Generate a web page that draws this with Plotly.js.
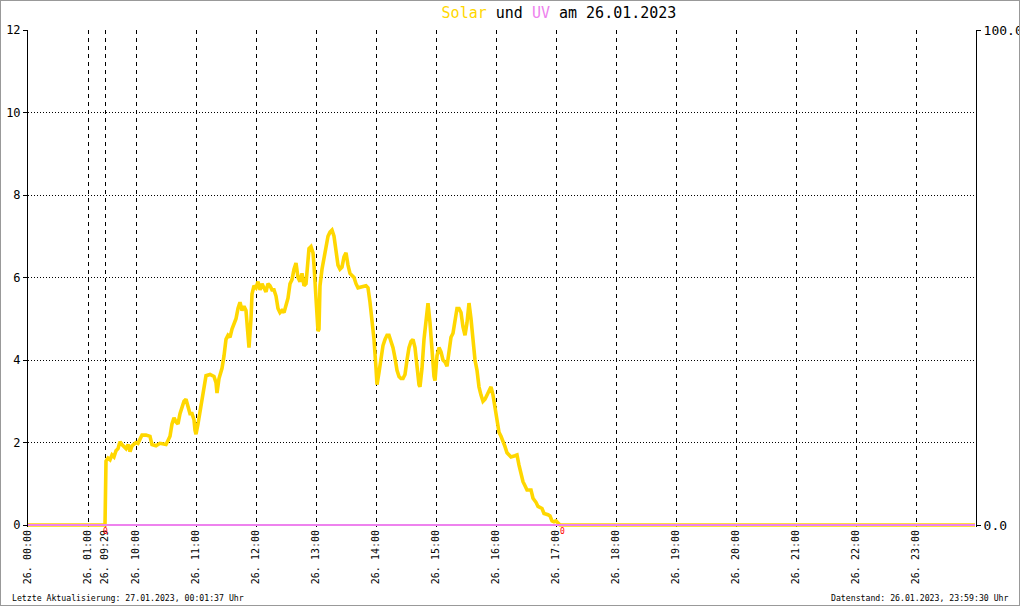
<!DOCTYPE html>
<html>
<head>
<meta charset="utf-8">
<script src="https://cdn.plot.ly/plotly-3.0.1.min.js"></script>
<style>
  html, body { margin: 0; padding: 0; background: #fff; }
  #wrap { position: relative; width: 1020px; height: 606px; }
  #chart { width: 1020px; height: 606px; }
  #frame { position: absolute; left: 0; top: 0; width: 1018px; height: 604px; border: 1px solid #999; pointer-events: none; }
</style>
</head>
<body>
<div id="wrap"><div id="chart"></div><div id="frame"></div></div>
<script>
const day = '2023-01-26';

const solarTime = ['00:00','09:29','09:30','09:32','09:34','09:36','09:38','09:40','09:42','09:44','09:46','09:48','09:50','09:52','09:54','09:56','09:58',
'10:00','10:02','10:04','10:06','10:10','10:14','10:16','10:20','10:24','10:28','10:30','10:32','10:34','10:36','10:38','10:40','10:42','10:44','10:46','10:48','10:50','10:52','10:54','10:56','10:58','10:59',
'11:00','11:02','11:04','11:06','11:08','11:10','11:14','11:18','11:20','11:21','11:23','11:26','11:28','11:30','11:32','11:34','11:36','11:38','11:40','11:42','11:44','11:46','11:48','11:50','11:51','11:53','11:55','11:56','11:58',
'12:00','12:02','12:04','12:06','12:08','12:10','12:12','12:14','12:16','12:18','12:20','12:22','12:24','12:26','12:28','12:30','12:32','12:34','12:36','12:38','12:40','12:42','12:44','12:46','12:48','12:50','12:51','12:53','12:55','12:57','12:58',
'13:00','13:02','13:03','13:04','13:06','13:08','13:10','13:12','13:14','13:16','13:18','13:20','13:22','13:24','13:26','13:28','13:30','13:32','13:34','13:36','13:38','13:40','13:42','13:50','13:52','13:54','13:56','13:58',
'14:00','14:01','14:03','14:05','14:07','14:09','14:11','14:13','14:15','14:17','14:19','14:21','14:23','14:25','14:27','14:29','14:31','14:33','14:35','14:37','14:39','14:41','14:43','14:44','14:46','14:48','14:50','14:52','14:54','14:56','14:58','14:59',
'15:01','15:03','15:05','15:07','15:09','15:11','15:13','15:15','15:17','15:19','15:21','15:23','15:25','15:27','15:29','15:31','15:33','15:35','15:37','15:39','15:41','15:43','15:45','15:47','15:49','15:51','15:53','15:55','15:57','15:59',
'16:01','16:03','16:05','16:07','16:09','16:11','16:13','16:15','16:19','16:21','16:23','16:25','16:27','16:29','16:31','16:35','16:37','16:40','16:42','16:46','16:48','16:52','16:54','16:56','16:58',
'17:00','17:02','17:04','23:59'];

const solarValue = [0,0,1.55,1.62,1.58,1.7,1.65,1.8,1.85,2.02,1.95,1.9,1.85,1.95,1.78,1.92,1.95,
2.0,1.98,2.1,2.18,2.18,2.15,1.95,1.92,1.98,1.95,1.95,2.05,2.15,2.45,2.6,2.5,2.45,2.7,2.85,3.0,3.05,2.9,2.7,2.7,2.55,2.3,
2.2,2.45,2.75,3.0,3.3,3.62,3.65,3.6,3.45,3.2,3.55,3.8,4.1,4.5,4.6,4.55,4.75,4.9,5.0,5.25,5.4,5.2,5.3,5.2,4.8,4.3,5.0,5.6,5.8,
5.75,5.9,5.7,5.85,5.75,5.65,5.85,5.8,5.7,5.7,5.55,5.25,5.15,5.2,5.15,5.35,5.5,5.85,5.95,6.2,6.35,6.0,5.9,6.1,5.8,5.85,6.15,6.7,6.75,6.6,6.3,
5.3,4.7,4.75,5.8,6.2,6.45,6.7,7.0,7.1,7.15,7.0,6.55,6.3,6.2,6.25,6.5,6.6,6.3,6.1,6.05,6.0,5.85,5.75,5.8,5.75,5.4,5.0,4.5,
3.8,3.4,3.7,4.1,4.35,4.5,4.6,4.6,4.45,4.3,4.05,3.75,3.6,3.55,3.55,3.65,4.0,4.3,4.45,4.5,4.3,3.75,3.4,3.35,3.8,4.5,5.0,5.38,4.9,4.1,3.6,3.5,
4.1,4.3,4.2,4.0,3.95,3.85,4.2,4.55,4.65,5.0,5.25,5.25,5.15,4.8,4.6,4.9,5.38,5.0,4.5,4.0,3.75,3.35,3.15,3.0,3.05,3.15,3.3,3.35,3.15,2.85,
2.5,2.25,2.15,2.05,1.9,1.75,1.7,1.65,1.68,1.7,1.45,1.2,1.05,0.95,0.85,0.85,0.65,0.55,0.45,0.4,0.28,0.25,0.22,0.1,0.08,
0.1,0.06,0,0];

const uvTime = ['00:00','23:59'];
const uvValue = [0, 0];

const tickTimes = ['00:00','01:00','09:29','10:00','11:00','12:00','13:00','14:00','15:00','16:00','17:00','18:00','19:00','20:00','21:00','22:00','23:00'];
const tickLabels = tickTimes.map(t => '26. ' + t);

const leftTicks = [0,2,4,6,8,10,12];
const rightTicks = [0,100];
const rightLabels = ['0.0','100.0'];

const markTimes = ['09:29','17:06'];
const markLabels = ['0','0'];

const titleHtml = '<span style="color:#FFD700">Solar</span> und <span style="color:#EE82EE">UV</span> am 26.01.2023';
const footLeft = 'Letzte Aktualisierung: 27.01.2023, 00:01:37 Uhr';
const footRight = 'Datenstand: 26.01.2023, 23:59:30 Uhr';

const ts = t => day + ' ' + t;
const mono = 'DejaVu Sans Mono, Liberation Mono, monospace';

const traces = [
  {
    x: solarTime.map(ts), y: solarValue, type: 'scatter', mode: 'lines',
    line: {color: '#FFD700', width: 3.6, shape: 'linear'}, yaxis: 'y', hoverinfo: 'skip'
  },
  {
    x: uvTime.map(ts), y: uvValue, type: 'scatter', mode: 'lines',
    line: {color: '#EE82EE', width: 2}, yaxis: 'y2', hoverinfo: 'skip'
  }
];

const annotations = markTimes.map((t, i) => ({
  x: ts(t), y: 0, xref: 'x', yref: 'y', text: markLabels[i], showarrow: false,
  yshift: -6, font: {family: mono, size: 8, color: '#FF0000'}
}));
annotations.push({
  x: -18/948, y: -(598-527)/497, xref: 'paper', yref: 'paper', text: footLeft, showarrow: false,
  xanchor: 'left', yanchor: 'middle', font: {family: mono, size: 8.2, color: '#000'}
});
annotations.push({
  x: (1011-28)/948, y: -(598-527)/497, xref: 'paper', yref: 'paper', text: footRight, showarrow: false,
  xanchor: 'right', yanchor: 'middle', font: {family: mono, size: 8.2, color: '#000'}
});

const layout = {
  width: 1020, height: 606,
  margin: {l: 28, r: 44, t: 30, b: 79, pad: 0},
  paper_bgcolor: '#fff', plot_bgcolor: '#fff',
  showlegend: false,
  title: {text: titleHtml, x: 559/1020, xanchor: 'center', xref: 'container', y: 1 - 13/606, yanchor: 'middle', yref: 'container',
          font: {family: mono, size: 15, color: '#000'}},
  xaxis: {
    type: 'date',
    range: [ts('00:00'), '2023-01-27 00:00'],
    rangebreaks: [{bounds: [ts('01:00:01'), ts('09:12:01')]}],
    tickmode: 'array', tickvals: tickTimes.map(ts), ticktext: tickLabels,
    tickangle: -90, ticks: '', ticklen: 0,
    tickfont: {family: mono, size: 10, color: '#000'},
    showgrid: true, gridcolor: '#000', gridwidth: 1, griddash: '4px,4px',
    showline: false, zeroline: false, fixedrange: true
  },
  yaxis: {
    range: [-2/41.25, 12],
    tickmode: 'array', tickvals: leftTicks,
    ticks: 'outside', ticklen: 4, tickcolor: '#000', tickwidth: 1,
    tickfont: {family: mono, size: 12, color: '#000'},
    showgrid: true, gridcolor: '#000', gridwidth: 1, griddash: '1px,2px',
    showline: true, linecolor: '#000', linewidth: 1, zeroline: false, fixedrange: true
  },
  yaxis2: {
    overlaying: 'y', side: 'right',
    range: [-2/41.25 * 100/12, 100],
    tickmode: 'array', tickvals: rightTicks, ticktext: rightLabels,
    ticks: 'outside', ticklen: 4, tickcolor: '#000', tickwidth: 1,
    tickfont: {family: mono, size: 13, color: '#000'},
    showgrid: false, showline: true, linecolor: '#000', linewidth: 1, zeroline: false, fixedrange: true
  },
  annotations: annotations
};

Plotly.newPlot('chart', traces, layout, {staticPlot: true, displayModeBar: false});
</script>
</body>
</html>
